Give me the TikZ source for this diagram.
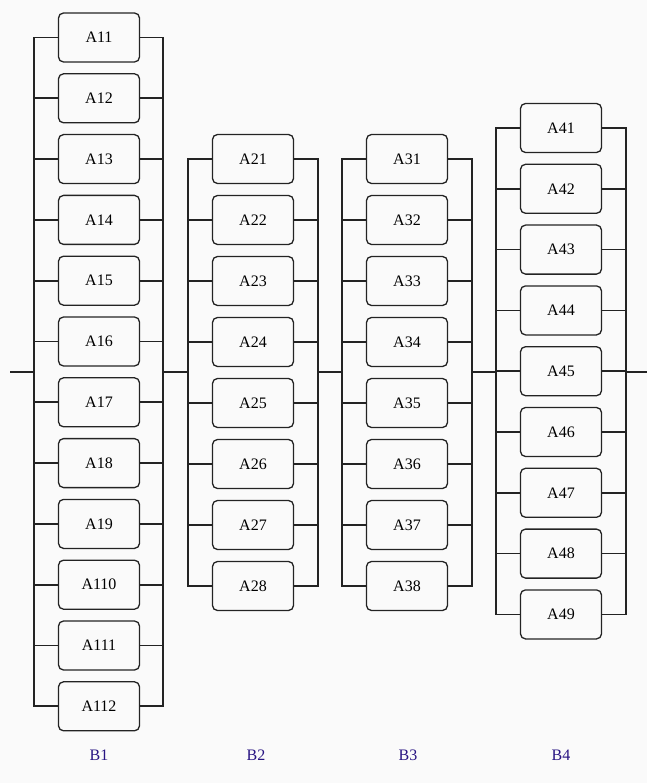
\documentclass[tikz,border=0pt]{standalone}
\usepackage{fontspec}
\setmainfont{Liberation Serif}
\definecolor{bg}{RGB}{250,250,250}
\definecolor{lbl}{RGB}{40,20,130}
\definecolor{ln}{RGB}{35,35,35}
\tikzset{
  unitbox/.style={draw=ln, line width=1.3pt, rounded corners=5pt, minimum width=81pt, minimum height=49pt, inner sep=0pt, font=\fontsize{16}{18}\selectfont},
  wire/.style={draw=ln, line width=1.7pt},
  grouplabel/.style={text=lbl, font=\fontsize{16}{18}\selectfont}
}
\begin{document}
\begin{tikzpicture}[x=1pt,y=-1pt]
\fill[bg] (0,0) rectangle (647,783);
\useasboundingbox (0,0) rectangle (647,783);
% junction coordinates on the main line
\coordinate (S) at (10,372);
\coordinate (E) at (647,372);
\coordinate (L1) at (34,372);  \coordinate (R1) at (163,372);
\coordinate (L2) at (188,372); \coordinate (R2) at (318,372);
\coordinate (L3) at (342,372); \coordinate (R3) at (472,372);
\coordinate (L4) at (496,372); \coordinate (R4) at (626,372);
% column B1
\foreach \i in {1,...,12} {
  \node[unitbox] (A1\i) at (99,{37.5+60.8*(\i-1)}) {A1\i};
  \draw[wire] (A1\i.west) -| (L1);
  \draw[wire] (A1\i.east) -| (R1);
}
% column B2
\foreach \i in {1,...,8} {
  \node[unitbox] (A2\i) at (253,{159+61*(\i-1)}) {A2\i};
  \draw[wire] (A2\i.west) -| (L2);
  \draw[wire] (A2\i.east) -| (R2);
}
% column B3
\foreach \i in {1,...,8} {
  \node[unitbox] (A3\i) at (407,{159+61*(\i-1)}) {A3\i};
  \draw[wire] (A3\i.west) -| (L3);
  \draw[wire] (A3\i.east) -| (R3);
}
% column B4
\foreach \i in {1,...,9} {
  \node[unitbox] (A4\i) at (561,{128+60.8*(\i-1)}) {A4\i};
  \draw[wire] (A4\i.west) -| (L4);
  \draw[wire] (A4\i.east) -| (R4);
}
% series connections
\draw[wire] (S) -- (L1);
\draw[wire] (R1) -- (L2);
\draw[wire] (R2) -- (L3);
\draw[wire] (R3) -- (L4);
\draw[wire] (R4) -- (E);
% labels
\node[grouplabel] (B1) at (99,755) {B1};
\node[grouplabel] (B2) at (256,755) {B2};
\node[grouplabel] (B3) at (408,755) {B3};
\node[grouplabel] (B4) at (561,755) {B4};
\end{tikzpicture}
\end{document}
